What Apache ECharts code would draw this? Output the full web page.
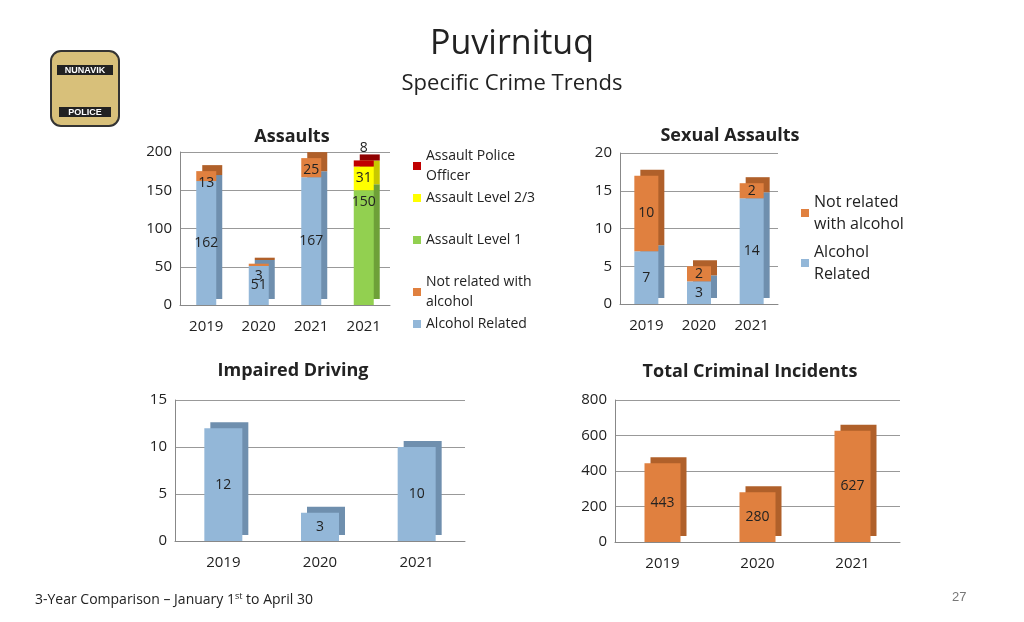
<!DOCTYPE html><html><head><meta charset="utf-8">
<script src="https://cdn.jsdelivr.net/npm/echarts@6/dist/echarts.min.js"></script>
<style>html,body{margin:0;background:#fff}#c{width:1024px;height:622px}</style></head><body><div id="c"></div>
<script>
const yearsA=['2019','2020','2021','2021'];
const years=['2019','2020','2021'];
const aAlcohol=[162,51,167,null];
const aNotRel=[13,3,25,null];
const aLvl1=[null,null,null,150];
const aLvl23=[null,null,null,31];
const aPolice=[null,null,null,8];
const sAlcohol=[7,3,14];
const sNotRel=[10,2,2];
const impaired=[12,3,10];
const totalInc=[443,280,627];
const assaultLegend=['Assault Police\nOfficer','Assault Level 2/3','Assault Level 1','Not related with\nalcohol','Alcohol Related'];

const BLUE='#93b7d8',ORANGE='#e0803f',GREEN='#92d050',YEL='#ffff00',RED='#c00000';
const f='Open Sans, Liberation Sans, sans-serif';
const ax={axisLine:{show:true,lineStyle:{color:'#888'}},axisTick:{show:false},axisLabel:{color:'#222',fontSize:15,fontFamily:f}};
const yax=(i,max,int)=>({gridIndex:i,min:0,max:max,interval:int,...ax,splitLine:{lineStyle:{color:'#999'}}});
const xax=(i,d)=>({gridIndex:i,type:'category',data:d,...ax,axisLabel:{...ax.axisLabel,margin:14}});
function bar(name,data,color,g,stack,shadow,bw,pos,off){return {name,type:'bar',xAxisIndex:g,yAxisIndex:g,data,stack,barWidth:bw,
 itemStyle:{color,shadowColor:shadow,shadowOffsetX:6,shadowOffsetY:-6},
 label:{show:true,position:pos||'inside',offset:off||[0,0],color:'#222',fontSize:14,fontFamily:f},labelLayout:{hideOverlap:false}};}
const aTops=[141,183,225,267,309];
const legends=assaultLegend.map((n,i)=>({orient:'vertical',left:408,top:aTops[i]-(n.includes('\n')?0:0),itemWidth:8,itemHeight:8,icon:'rect',
  textStyle:{fontSize:14,color:'#222',lineHeight:20,fontFamily:f},data:[n]}));
legends.push({orient:'vertical',left:796,top:186,itemWidth:8,itemHeight:8,itemGap:6,icon:'rect',textStyle:{fontSize:16,color:'#222',lineHeight:22,fontFamily:f},
   data:['Not related\nwith alcohol','Alcohol\nRelated']});
const ch=echarts.init(document.getElementById('c'));
ch.setOption({animation:false,
 title:[{text:'Puvirnituq',left:'center',top:22,textStyle:{fontSize:34,fontWeight:'normal',color:'#222',fontFamily:f}},
  {text:'Specific Crime Trends',left:'center',top:68,textStyle:{fontSize:22,fontWeight:'normal',color:'#222',fontFamily:f}},
  {text:'Assaults',left:287,top:123,textAlign:'center',textStyle:{fontSize:18,fontWeight:'bold',color:'#222',fontFamily:f}},
  {text:'Sexual Assaults',left:725,top:122,textAlign:'center',textStyle:{fontSize:18,fontWeight:'bold',color:'#222',fontFamily:f}},
  {text:'Impaired Driving',left:288,top:357,textAlign:'center',textStyle:{fontSize:18,fontWeight:'bold',color:'#222',fontFamily:f}},
  {text:'Total Criminal Incidents',left:745,top:358,textAlign:'center',textStyle:{fontSize:18,fontWeight:'bold',color:'#222',fontFamily:f}},
  {text:'3-Year Comparison – January 1{s|st} to April 30',left:30,top:587,textStyle:{fontSize:14,fontWeight:'normal',color:'#222',fontFamily:f,rich:{s:{fontSize:9,verticalAlign:'top',padding:[0,0,8,0]}}}},
  {text:'27',left:947,top:586,textStyle:{fontSize:13,fontWeight:'normal',color:'#777'}}],
 legend:legends,
 grid:[{left:180,top:152,width:210,height:153},{left:620,top:153,width:158,height:151},
  {left:175,top:400,width:290,height:141},{left:615,top:400,width:285,height:142}],
 xAxis:[xax(0,yearsA),xax(1,years),xax(2,years),xax(3,years)],
 yAxis:[yax(0,200,50),yax(1,20,5),yax(2,15,5),yax(3,800,200)],
 series:[
  bar(assaultLegend[4],aAlcohol,BLUE,0,'a','#6f8fae',20,'inside',[0,0]),
  bar(assaultLegend[3],aNotRel,ORANGE,0,'a','#b0602a',20,'insideTop',[0,-4]),
  bar(assaultLegend[2],aLvl1,GREEN,0,'a','#6ea038',20,'insideTop',[0,0]),
  bar(assaultLegend[1],aLvl23,YEL,0,'a','#c8c800',20,'inside',[-4,0]),
  bar(assaultLegend[0],aPolice,RED,0,'a','#900000',20,'top',[-3,-2]),
  bar('Alcohol\nRelated',sAlcohol,BLUE,1,'s','#6f8fae',24,'inside',[-3,0]),
  bar('Not related\nwith alcohol',sNotRel,ORANGE,1,'s','#b0602a',24,'inside',[-3,0]),
  bar('Impaired',impaired,BLUE,2,null,'#6f8fae',38,'inside',[0,0]),
  bar('Total',totalInc,ORANGE,3,null,'#b0602a',36,'inside',[0,0])
 ],
 graphic:[{type:'group',left:50,top:50,children:[
  {type:'rect',shape:{x:0,y:0,width:68,height:75,r:10},style:{fill:'#d8c07a',stroke:'#333',lineWidth:2}},
  {type:'rect',shape:{x:6,y:14,width:56,height:10},style:{fill:'#222'}},
  {type:'text',style:{x:34,y:15,text:'NUNAVIK',fill:'#fff',fontSize:9,fontWeight:'bold',align:'center'}},
  {type:'rect',shape:{x:8,y:56,width:52,height:10},style:{fill:'#222'}},
  {type:'text',style:{x:34,y:57,text:'POLICE',fill:'#fff',fontSize:9,fontWeight:'bold',align:'center'}}]}]
});
</script></body></html>
